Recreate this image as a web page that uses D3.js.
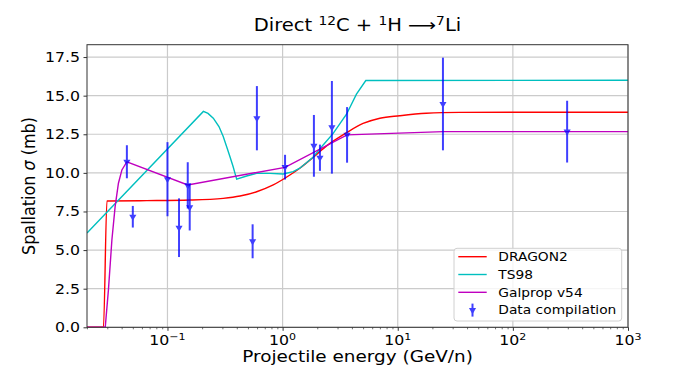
<!DOCTYPE html>
<html>
<head>
<meta charset="utf-8">
<script src="https://cdn.jsdelivr.net/npm/d3@7/dist/d3.min.js"></script>
<style>
body { margin: 0; background: #fff; }
text { font-family: "DejaVu Sans", sans-serif; fill: #000; }
</style>
</head>
<body>
<div id="chart"></div>
<script>
// Direct 12C + 1H -> 7Li spallation cross section

// model curves: energy (GeV/n) and sigma (mb)
var dragonE = [0.02, 0.0278, 0.0298, 0.066, 0.157, 0.305, 0.427, 0.595, 0.829, 1.157, 1.41, 1.84, 2.41, 3.59, 5.0, 7.0, 10.4, 17.7, 34.5, 100, 1000];
var dragonS = [0, 0, 8.18, 8.2, 8.24, 8.35, 8.5, 8.78, 9.22, 9.86, 10.3, 11.0, 11.75, 12.6, 13.2, 13.54, 13.7, 13.86, 13.92, 13.93, 13.93];

var ts98E = [0.02, 0.205, 0.225, 0.25, 0.28, 0.305, 0.33, 0.349, 0.372, 0.386, 0.399, 0.487, 0.595, 0.776, 1.012, 1.236, 1.41, 1.84, 2.25, 2.75, 3.59, 4.38, 5.28, 1000];
var ts98S = [6.1, 13.98, 13.85, 13.54, 13.0, 12.35, 11.6, 11.05, 10.4, 9.97, 9.59, 9.8, 9.97, 9.97, 9.93, 10.08, 10.3, 11.01, 11.81, 12.56, 13.8, 15.1, 15.98, 16.0];

var galpropE = [0.02, 0.0288, 0.0307, 0.0329, 0.0351, 0.0375, 0.0402, 0.0444, 0.15, 1.05, 3.63, 25, 1000];
var galpropS = [0, 0, 2.42, 5.65, 7.81, 9.33, 10.19, 10.72, 9.22, 10.36, 12.46, 12.67, 12.67];

// data compilation
var dataE = [0.0444, 0.050, 0.100, 0.126, 0.150, 0.156, 0.549, 0.598, 1.05, 1.87, 2.11, 2.68, 3.63, 24.7, 296];
var dataS = [10.72, 7.16, 9.59, 6.45, 9.19, 7.77, 5.57, 13.54, 10.37, 11.75, 10.98, 12.95, 12.46, 14.46, 12.67];
var dataErr = [1.07, 0.7, 2.4, 1.9, 1.5, 1.5, 1.1, 2.08, 0.8, 2.0, 0.85, 3.0, 1.8, 3.0, 2.0];

var yTicks = [0, 2.5, 5, 7.5, 10, 12.5, 15, 17.5];
var xTicks = [0.1, 1, 10, 100, 1000];
var xTickExp = ["\u22121", "0", "1", "2", "3"];

var legendNames = ["DRAGON2", "TS98", "Galprop v54", "Data compilation"];
var legendColors = ["#ff0000", "#00bfbf", "#bf00bf", "#0000ff"];

var svgWidth = 698, svgHeight = 368;
var margin = {top: 44.7, right: 70, bottom: 40.7, left: 87};
var width = svgWidth - margin.left - margin.right,
    height = svgHeight - margin.top - margin.bottom;
var SX = 1.15; // the picture is stretched sideways

var svg = d3.select("#chart").append("svg")
  .attr("width", svgWidth)
  .attr("height", svgHeight);

var chart = svg.append("g")
  .attr("transform", "translate(" + margin.left + "," + margin.top + ")");

var xScale = d3.scaleLog().domain([0.02, 1000]).range([0, width]);
var yScale = d3.scaleLinear().domain([0, 18.3]).range([height, 0]);

function stretchText(g, x, y, size) {
  return g.append("text")
    .attr("transform", "translate(" + x + "," + y + ") scale(" + SX + ",1)")
    .attr("font-size", size + "px");
}

svg.append("defs").append("clipPath").attr("id", "clip")
  .append("rect").attr("width", width).attr("height", height);

// grid
chart.selectAll(".hgrid")
  .data(yTicks)
  .enter().append("line")
  .attr("x1", 0).attr("x2", width)
  .attr("y1", d => yScale(d)).attr("y2", d => yScale(d))
  .attr("stroke", "#cbcbcb").attr("stroke-width", 1.2);

chart.selectAll(".vgrid")
  .data(xTicks)
  .enter().append("line")
  .attr("x1", d => xScale(d)).attr("x2", d => xScale(d))
  .attr("y1", 0).attr("y2", height)
  .attr("stroke", "#cbcbcb").attr("stroke-width", 1.2);

// curves
var line = d3.line()
  .x(d => xScale(d[0]))
  .y(d => yScale(d[1]));

var curves = chart.append("g").attr("clip-path", "url(#clip)");

curves.append("path")
  .datum(d3.zip(dragonE, dragonS))
  .attr("d", line.curve(d3.curveMonotoneX))
  .attr("fill", "none").attr("stroke", legendColors[0]).attr("stroke-width", 1.4);

curves.append("path")
  .datum(d3.zip(ts98E, ts98S))
  .attr("d", line.curve(d3.curveLinear))
  .attr("fill", "none").attr("stroke", legendColors[1]).attr("stroke-width", 1.4);

curves.append("path")
  .datum(d3.zip(galpropE, galpropS))
  .attr("d", line.curve(d3.curveLinear))
  .attr("fill", "none").attr("stroke", legendColors[2]).attr("stroke-width", 1.4);

// data points with error bars
var points = chart.append("g").selectAll("g")
  .data(d3.range(dataE.length))
  .enter().append("g")
  .attr("opacity", 0.75);

points.append("line")
  .attr("x1", i => xScale(dataE[i])).attr("x2", i => xScale(dataE[i]))
  .attr("y1", i => yScale(dataS[i] + dataErr[i]))
  .attr("y2", i => yScale(dataS[i] - dataErr[i]))
  .attr("stroke", "#0000ff").attr("stroke-width", 2);

var tri = d3.symbol().type(d3.symbolTriangle).size(22);
points.append("path")
  .attr("d", tri)
  .attr("transform", i => "translate(" + xScale(dataE[i]) + "," + yScale(dataS[i]) + ") rotate(180)")
  .attr("fill", "#0000ff");

// spines
chart.append("rect")
  .attr("width", width).attr("height", height)
  .attr("fill", "none").attr("stroke", "#333").attr("stroke-width", 1);

// y axis ticks and labels
chart.append("g")
  .call(d3.axisLeft(yScale).tickValues(yTicks).tickSize(3.5).tickFormat(""))
  .call(g => g.select(".domain").remove())
  .selectAll("line").attr("stroke", "#333");

yTicks.forEach(function(t) {
  stretchText(chart, -7, yScale(t), 13.7)
    .attr("text-anchor", "end")
    .attr("dy", "0.36em")
    .text(d3.format(".1f")(t));
});

// x axis ticks (major + minor)
var minor = [];
for (var k = -2; k <= 2; k++) {
  for (var m = 2; m <= 9; m++) {
    var v = m * Math.pow(10, k);
    if (v >= 0.02 && v <= 1000) minor.push(v);
  }
}

chart.append("g")
  .attr("transform", "translate(0," + height + ")")
  .call(d3.axisBottom(xScale).tickValues(xTicks).tickSize(3.5).tickFormat(""))
  .call(g => g.select(".domain").remove())
  .selectAll("line").attr("stroke", "#333");

chart.append("g")
  .attr("transform", "translate(0," + height + ")")
  .call(d3.axisBottom(xScale).tickValues(minor).tickSize(2).tickFormat(""))
  .call(g => g.select(".domain").remove())
  .selectAll("line").attr("stroke", "#333").attr("stroke-width", 0.7);

xTicks.forEach(function(t, i) {
  var lab = stretchText(chart, xScale(t), height + 18, 13.7)
    .attr("text-anchor", "middle");
  lab.append("tspan").text("10");
  lab.append("tspan").attr("dy", -5.5).attr("font-size", "9.6px").text(xTickExp[i]);
});

// axis labels
stretchText(svg, margin.left + width / 2, 362, 16)
  .attr("text-anchor", "middle")
  .text("Projectile energy (GeV/n)");

var ylab = svg.append("text")
  .attr("transform", "translate(35," + (margin.top + height / 2) + ") scale(" + SX + ",1) rotate(-90)")
  .attr("font-size", "16px")
  .attr("text-anchor", "middle");
ylab.append("tspan").text("Spallation ");
ylab.append("tspan").attr("font-style", "italic").text("\u03c3");
ylab.append("tspan").text(" (mb)");

// title
var title = stretchText(svg, margin.left + width / 2, 31, 17)
  .attr("text-anchor", "middle");
title.append("tspan").text("Direct ");
title.append("tspan").attr("dy", -6).attr("font-size", "12px").text("12");
title.append("tspan").attr("dy", 6).text("C + ");
title.append("tspan").attr("dy", -6).attr("font-size", "12px").text("1");
title.append("tspan").attr("dy", 6).text("H \u27f6");
title.append("tspan").attr("dy", -6).attr("font-size", "12px").text("7");
title.append("tspan").attr("dy", 6).text("Li");

// legend
var legend = svg.append("g").attr("transform", "translate(454,248.3)");

legend.append("rect")
  .attr("width", 167.7).attr("height", 72.7)
  .attr("rx", 3)
  .attr("fill", "#fff").attr("fill-opacity", 0.8)
  .attr("stroke", "#d0d0d0").attr("stroke-width", 1);

legendNames.forEach(function(name, i) {
  var ly = 8.4 + i * 17.8;
  if (i < 3) {
    legend.append("line")
      .attr("x1", 4.3).attr("x2", 32.7)
      .attr("y1", ly).attr("y2", ly)
      .attr("stroke", legendColors[i]).attr("stroke-width", 1.4);
  } else {
    var lg = legend.append("g").attr("opacity", 0.75);
    lg.append("line")
      .attr("x1", 18.5).attr("x2", 18.5)
      .attr("y1", ly - 6.5).attr("y2", ly + 6.5)
      .attr("stroke", "#0000ff").attr("stroke-width", 2);
    lg.append("path")
      .attr("d", tri)
      .attr("transform", "translate(18.5," + ly + ") rotate(180)")
      .attr("fill", "#0000ff");
  }
  stretchText(legend, 44.3, ly, 12)
    .attr("dy", "0.36em")
    .text(name);
});
</script>
</body>
</html>
